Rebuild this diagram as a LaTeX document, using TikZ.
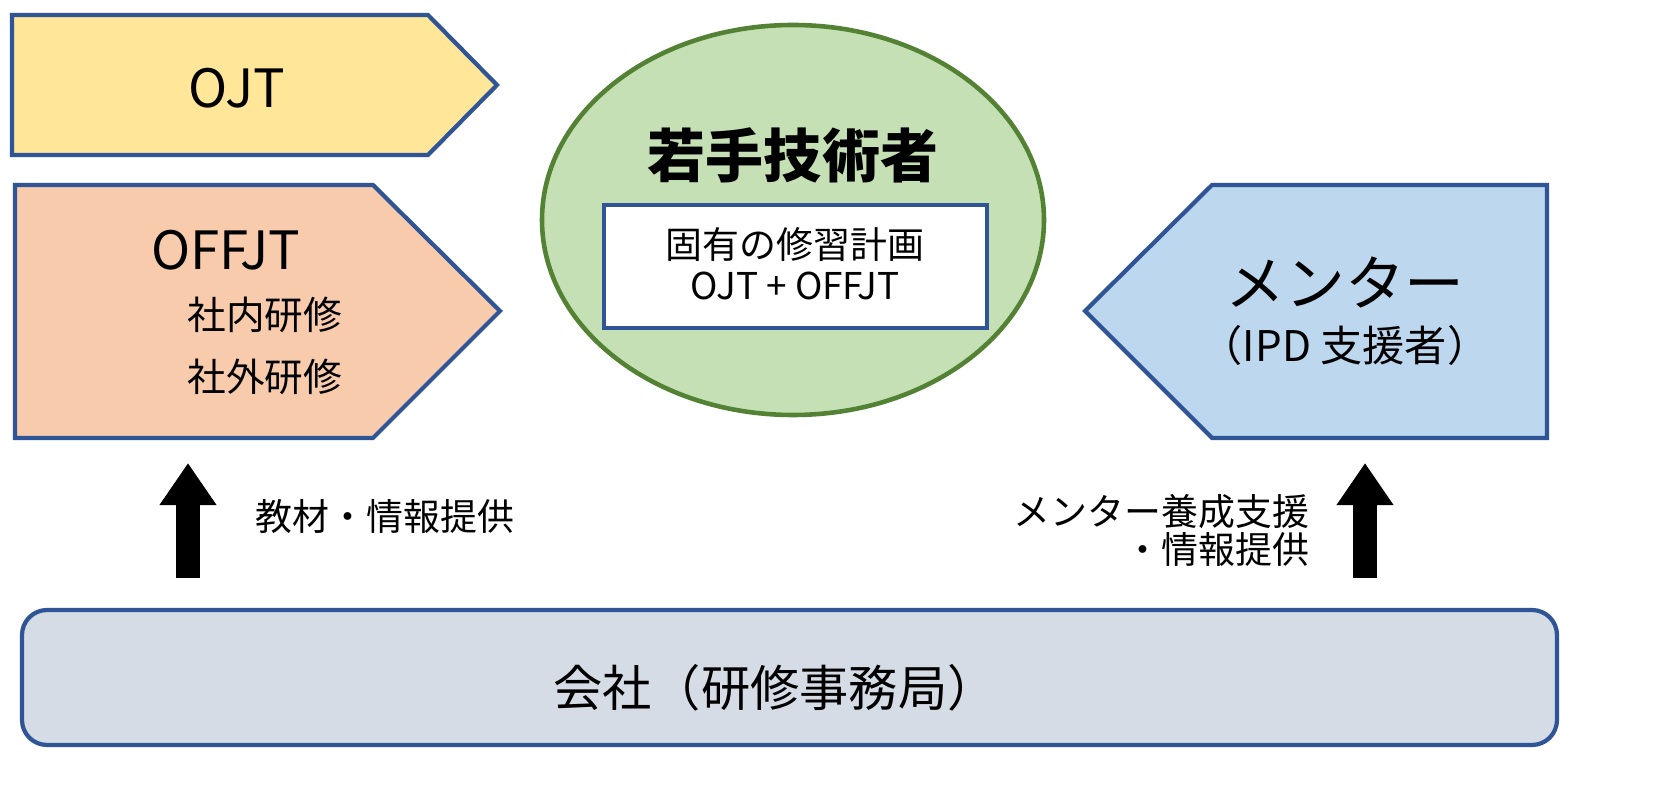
\documentclass[tikz,border=0pt]{standalone}
\usepackage{fontspec}
\setmainfont{Noto Sans CJK JP}
\usetikzlibrary{arrows.meta,shapes.geometric}
\definecolor{bd}{HTML}{2F5597}
\definecolor{cojt}{HTML}{FFE699}
\definecolor{coff}{HTML}{F8CBAD}
\definecolor{cgr}{HTML}{C5E0B4}
\definecolor{cgb}{HTML}{548235}
\definecolor{cbl}{HTML}{BDD7EE}
\definecolor{cco}{HTML}{D6DCE5}
\tikzset{shp/.style={draw=bd,line width=1.2pt},
 lbl/.style={inner sep=0pt,font=\fontsize{10.5pt}{13pt}\selectfont},
 uparr/.style={line width=0.24cm,-{Triangle[length=0.42cm,width=0.54cm]}}}
\begin{document}
\begin{tikzpicture}[x=0.01cm,y=-0.01cm]
\clip (0,0) rectangle (1663,807);
\fill[white] (0,0) rectangle (1663,807);
\draw[shp,fill=cojt] (12,15) -- (428,15) -- (497,85) -- (428,155) -- (12,155) -- cycle;
\node (ojt) at (237,88) {\fontsize{15pt}{18pt}\selectfont OJT};
\draw[shp,fill=coff] (15,185) -- (373,185) -- (500,311) -- (373,438) -- (15,438) -- cycle;
\node (offjt) at (226,250) {\fontsize{15pt}{18pt}\selectfont OFFJT};
\node[lbl,font=\fontsize{11pt}{13pt}\selectfont] (sn) at (265,315) {社内研修};
\node[lbl,font=\fontsize{11pt}{13pt}\selectfont] (sg) at (265,377) {社外研修};
\draw[draw=cgb,line width=1.3pt,fill=cgr] (793,220) ellipse [x radius=251,y radius=195];
\node (wk) at (793,155) {\fontsize{16.5pt}{20pt}\selectfont\bfseries 若手技術者};
\draw[shp,fill=white] (604,205) rectangle (987,328);
\node[lbl] (pl1) at (795,245) {固有の修習計画};
\node[lbl] (pl2) at (795,286) {OJT + OFFJT};
\draw[shp,fill=cbl] (1085,311) -- (1212,185) -- (1547,185) -- (1547,438) -- (1212,438) -- cycle;
\node (mt) at (1345,282) {\fontsize{17pt}{20pt}\selectfont メンター};
\node[lbl,font=\fontsize{12pt}{14pt}\selectfont] (ipd) at (1345,345) {（IPD 支援者）};
\draw[draw=bd,line width=1.2pt,fill=cco,rounded corners=0.25cm] (22,610) rectangle (1557,745);
\node (co) at (775,688) {\fontsize{14pt}{17pt}\selectfont 会社（研修事務局）};
\coordinate (a1s) at (188,578); \coordinate (a1e) at (188,463);
\coordinate (a2s) at (1365,578); \coordinate (a2e) at (1365,463);
\draw[uparr] (a1s) -- (a1e);
\draw[uparr] (a2s) -- (a2e);
\node[lbl] (t1) at (385,517) {教材・情報提供};
\node[lbl,anchor=east] (t2) at (1310,512) {メンター養成支援};
\node[lbl,anchor=east] (t3) at (1310,550) {・情報提供};
\end{tikzpicture}
\end{document}
